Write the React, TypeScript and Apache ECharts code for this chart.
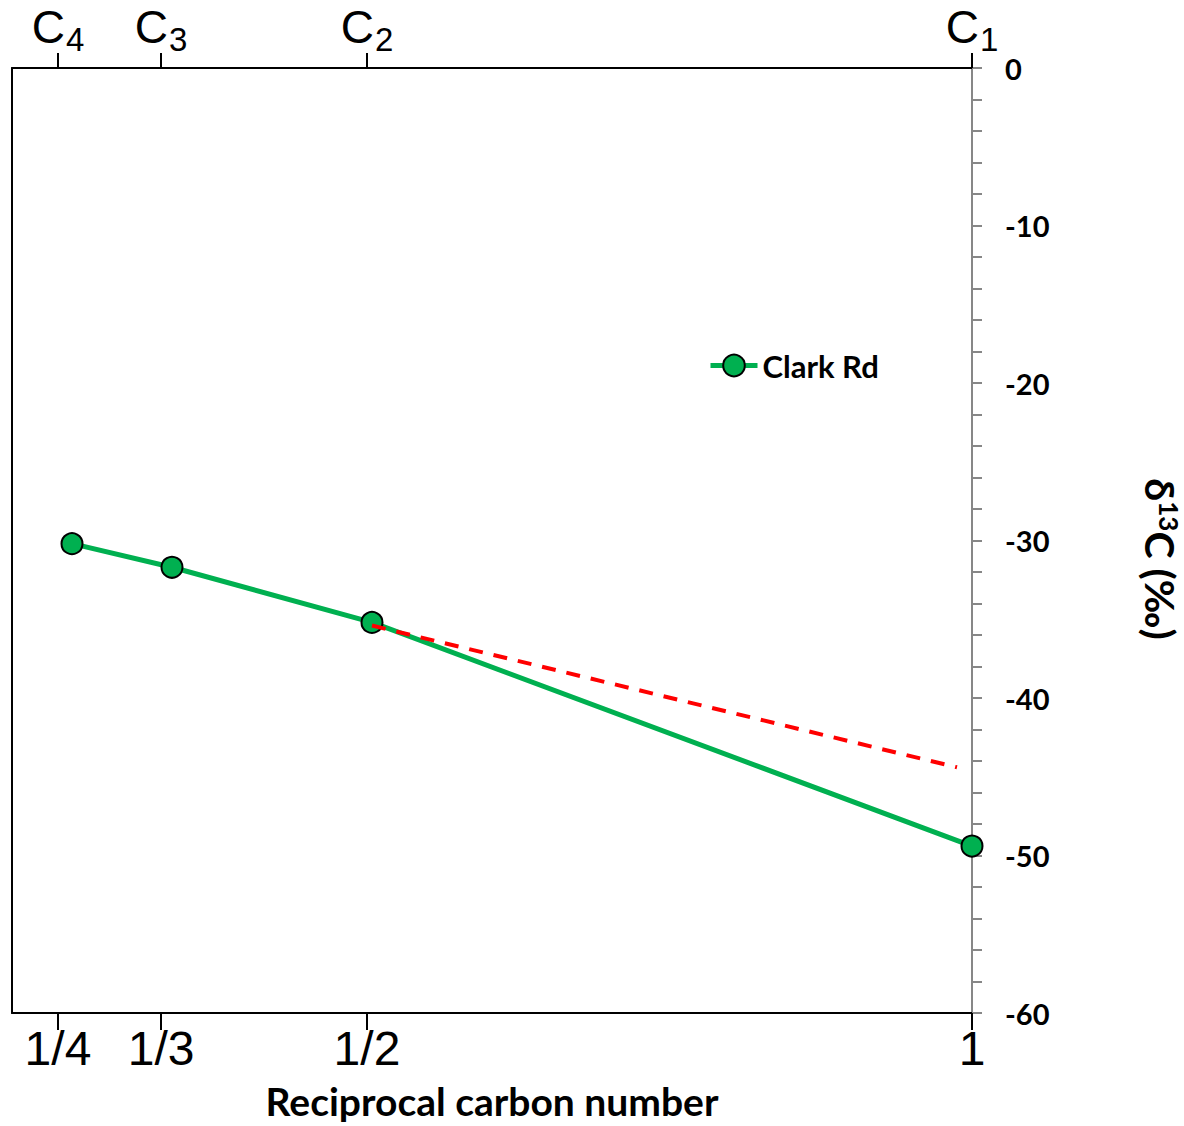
import React, { useEffect, useRef } from 'react';
import * as echarts from 'echarts';

// Data
const xValues = [1 / 4, 1 / 3, 1 / 2, 1];
const clarkRd = [-30.2, -31.7, -35.2, -49.4];
const trendX = [0.5, 0.9875];
const trendY = [-35.4, -44.4];
// Tick positions as drawn in the picture (x axis), with their labels
const tickPositions = [0.2383, 0.3242, 0.4958, 1.0];
const bottomLabels = ['1/4', '1/3', '1/2', '1'];
const topSubscripts = ['4', '3', '2', '1'];

const findIdx = (v: number) => tickPositions.findIndex((t) => Math.abs(t - v) < 1e-6);

export default function App() {
  const ref = useRef<HTMLDivElement>(null);
  useEffect(() => {
    const chart = echarts.init(ref.current!, null, { renderer: 'svg' });
    const black = '#000';
    const grey = '#878787';
    chart.setOption({
      animation: false,
      backgroundColor: '#fff',
      grid: { left: 12, right: 212, top: 68, bottom: 113, containLabel: false, outerBoundsMode: 'none' },
      legend: {
        data: ['Clark Rd'],
        left: 708,
        top: 350,
        padding: 0,
        itemWidth: 47,
        itemHeight: 27,
        lineStyle: { width: 5 },
        textStyle: { fontFamily: 'Lato', fontWeight: 'bold', fontSize: 31, color: black },
      },
      xAxis: [
        {
          type: 'value',
          position: 'bottom',
          min: 0.2,
          max: 1.0,
          axisLine: { show: true, onZero: false, lineStyle: { color: black, width: 2 } },
          axisTick: { show: true, customValues: tickPositions, length: 17, lineStyle: { color: black, width: 2 } },
          axisLabel: {
            customValues: tickPositions,
            formatter: (v: number) => { const i = findIdx(v); return i >= 0 ? bottomLabels[i] : ''; },
            fontFamily: 'Liberation Sans',
            fontSize: 48,
            color: black,
            margin: 11,
            showMinLabel: true,
            showMaxLabel: true,
          },
          splitLine: { show: false },
          name: 'Reciprocal carbon number',
          nameLocation: 'middle',
          nameGap: 68,
          nameTextStyle: { fontFamily: 'Lato', fontWeight: 'bold', fontSize: 39, color: black },
        },
        {
          type: 'value',
          position: 'top',
          min: 0.2,
          max: 1.0,
          axisLine: { show: true, onZero: false, lineStyle: { color: black, width: 2 } },
          axisTick: { show: true, customValues: tickPositions, length: 15, lineStyle: { color: black, width: 2 } },
          axisLabel: {
            customValues: tickPositions,
            formatter: (v: number) => { const i = findIdx(v); return i >= 0 ? `{c|C}{s|${topSubscripts[i]}}` : ''; },
            margin: 18,
            showMinLabel: true,
            showMaxLabel: true,
            rich: {
              c: { fontFamily: 'Liberation Sans', fontSize: 46, lineHeight: 46, verticalAlign: 'top', color: black },
              s: { fontFamily: 'Liberation Sans', fontSize: 33, lineHeight: 33, padding: [19, 0, 0, 1], verticalAlign: 'top', color: black },
            },
          },
          splitLine: { show: false },
        },
      ],
      yAxis: [
        {
          type: 'value',
          position: 'right',
          min: -60,
          max: 0,
          interval: 2,
          axisLine: { show: true, onZero: false, lineStyle: { color: grey, width: 2 } },
          axisTick: { show: true, length: 10, lineStyle: { color: grey, width: 2 } },
          axisLabel: {
            formatter: (v: number) => (Math.abs(v % 10) < 1e-6 ? String(v) : ''),
            fontFamily: 'Lato',
            fontWeight: 'bold',
            fontSize: 29,
            color: black,
            margin: 33,
          },
          splitLine: { show: false },
        },
        {
          type: 'value',
          position: 'left',
          min: -60,
          max: 0,
          axisLine: { show: true, onZero: false, lineStyle: { color: black, width: 2 } },
          axisTick: { show: false },
          axisLabel: { show: false },
          splitLine: { show: false },
        },
      ],
      graphic: [
        {
          type: 'text',
          x: 1160,
          y: 559,
          rotation: -Math.PI / 2,
          style: {
            text: '{a|δ}{b|13}{a|C (‰)}',
            align: 'center',
            verticalAlign: 'middle',
            fill: black,
            rich: {
              a: { fontFamily: 'Lato', fontWeight: 'bold', fontSize: 41, lineHeight: 44, fill: black },
              b: { fontFamily: 'Lato', fontWeight: 'bold', fontSize: 26, lineHeight: 28, verticalAlign: 'top', fill: black },
            },
          },
        },
      ],
      series: [
        {
          name: 'Clark Rd',
          type: 'line',
          xAxisIndex: 0,
          yAxisIndex: 0,
          data: xValues.map((x, i) => [x, clarkRd[i]]),
          symbol: 'circle',
          symbolSize: 21,
          lineStyle: { color: '#00B050', width: 5 },
          itemStyle: { color: '#00B050', borderColor: black, borderWidth: 2 },
          z: 2,
        },
        {
          name: 'trend',
          type: 'line',
          xAxisIndex: 0,
          yAxisIndex: 0,
          data: trendX.map((x, i) => [x, trendY[i]]),
          symbol: 'none',
          lineStyle: { color: '#FF0000', width: 4, type: [14, 11] },
          z: 3,
        },
      ],
    });
    return () => chart.dispose();
  }, []);
  return <div ref={ref} style={{ position: 'absolute', left: 0, top: 0, width: 1184, height: 1126 }} />;
}
